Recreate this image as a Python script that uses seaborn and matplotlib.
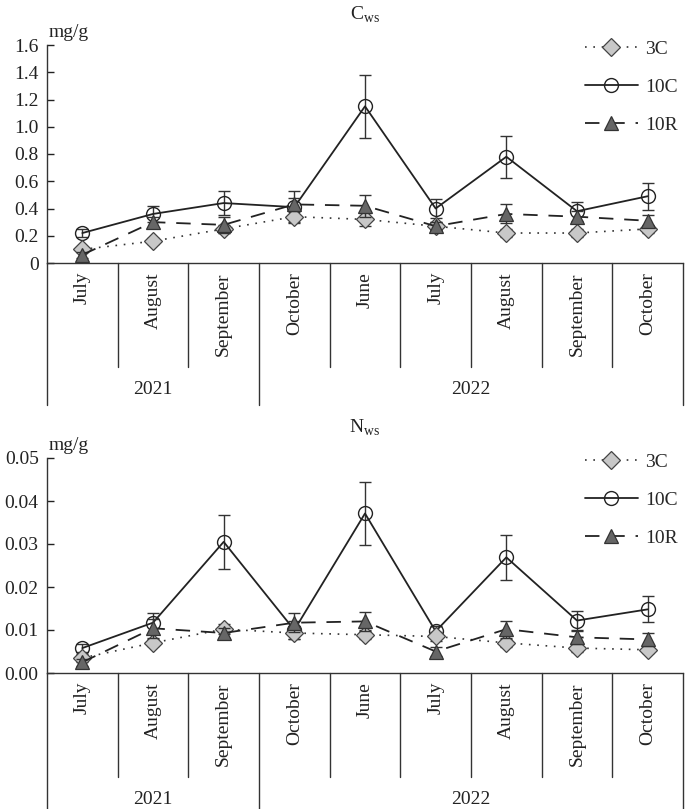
import matplotlib
matplotlib.use("Agg")
import matplotlib.pyplot as plt
from matplotlib.lines import Line2D
import seaborn as sns

# sampling months and years
months = ["July", "August", "September", "October", "June",
          "July", "August", "September", "October"]
years = ["2021", "2022"]
year_spans = [(0, 3), (3, 9)]  # column index ranges for each year
series_names = ["3C", "10C", "10R"]

# C_ws, mg/g
c_3c = [0.10, 0.16, 0.25, 0.34, 0.32, 0.27, 0.22, 0.22, 0.25]
c_3c_err = [0.02, 0.02, 0.03, 0.04, 0.05, 0.03, 0.03, 0.03, 0.03]
c_10c = [0.22, 0.36, 0.44, 0.41, 1.15, 0.40, 0.78, 0.38, 0.49]
c_10c_err = [0.03, 0.06, 0.09, 0.12, 0.23, 0.07, 0.155, 0.07, 0.10]
c_10r = [0.06, 0.30, 0.28, 0.43, 0.42, 0.27, 0.36, 0.34, 0.31]
c_10r_err = [0.02, 0.04, 0.06, 0.05, 0.08, 0.03, 0.07, 0.04, 0.04]

# N_ws, mg/g
n_3c = [0.0035, 0.0070, 0.0102, 0.0093, 0.0089, 0.0085, 0.0070, 0.0058, 0.0054]
n_3c_err = [0.0010, 0.0008, 0.0012, 0.0015, 0.0010, 0.0010, 0.0010, 0.0010, 0.0008]
n_10c = [0.0058, 0.0117, 0.0305, 0.0100, 0.0371, 0.0097, 0.0269, 0.0122, 0.0148]
n_10c_err = [0.0010, 0.0023, 0.0062, 0.0020, 0.0074, 0.0012, 0.0053, 0.0022, 0.0030]
n_10r = [0.0025, 0.0104, 0.0093, 0.0117, 0.0120, 0.0050, 0.0102, 0.0083, 0.0078]
n_10r_err = [0.0008, 0.0022, 0.0012, 0.0022, 0.0023, 0.0010, 0.0020, 0.0015, 0.0016]

c_ticks = [0, 0.2, 0.4, 0.6, 0.8, 1.0, 1.2, 1.4, 1.6]
c_ticklabels = ["0", "0.2", "0.4", "0.6", "0.8", "1.0", "1.2", "1.4", "1.6"]
n_ticks = [0.00, 0.01, 0.02, 0.03, 0.04, 0.05]
n_ticklabels = ["0.00", "0.01", "0.02", "0.03", "0.04", "0.05"]

sns.set_style("ticks")
plt.rcParams["font.family"] = ["Liberation Serif", "DejaVu Serif"]
plt.rcParams["mathtext.fontset"] = "custom"
plt.rcParams["mathtext.rm"] = "Liberation Serif"
plt.rcParams["axes.edgecolor"] = "#333333"

styles = {
    "3C": dict(color="#333333", linestyle=(0, (1, 4)), linewidth=1.2, marker="D",
               markersize=9, markerfacecolor="#c8c8c8", markeredgecolor="#444444",
               markeredgewidth=0.9),
    "10C": dict(color="#222222", linestyle="-", linewidth=1.3, marker="o",
                markersize=10, markerfacecolor="none", markeredgecolor="#222222",
                markeredgewidth=1.0),
    "10R": dict(color="#222222", linestyle=(0, (8, 6)), linewidth=1.3, marker="^",
                markersize=10, markerfacecolor="#666666", markeredgecolor="#333333",
                markeredgewidth=0.9),
}

FS = 14
W, H, DPI = 6.85, 8.09, 100
fig = plt.figure(figsize=(W, H), dpi=DPI)

ax_top = fig.add_axes([47 / 685, 1 - 263 / 809, 636 / 685, 218 / 809])
ax_bot = fig.add_axes([47 / 685, 1 - 673 / 809, 636 / 685, 215 / 809])

panels = [
    (ax_top, {"3C": (c_3c, c_3c_err), "10C": (c_10c, c_10c_err), "10R": (c_10r, c_10r_err)},
     c_ticks, c_ticklabels, r"$\mathrm{C}_{\mathrm{ws}}$", 218),
    (ax_bot, {"3C": (n_3c, n_3c_err), "10C": (n_10c, n_10c_err), "10R": (n_10r, n_10r_err)},
     n_ticks, n_ticklabels, r"$\mathrm{N}_{\mathrm{ws}}$", 215),
]

x = list(range(len(months)))

for ax, data, ticks, ticklabels, title, h_px in panels:
    # draw order: 10C underneath, then 3C, 10R on top
    for z, name in zip([2, 3, 4], ["10C", "3C", "10R"]):
        vals, errs = data[name]
        ax.errorbar(x, vals, yerr=errs, fmt="none", ecolor="#333333",
                    elinewidth=1.0, capsize=4, capthick=1.0, zorder=z)
        sns.lineplot(x=x, y=vals, ax=ax, zorder=z + 0.5, **styles[name])

    ax.set_xlim(-0.5, len(months) - 0.5)
    ax.set_ylim(ticks[0], ticks[-1])
    ax.set_yticks(ticks)
    ax.set_yticklabels(ticklabels)
    ax.set_xticks([])
    ax.tick_params(axis="y", direction="in", length=5, width=1.0, pad=6,
                   labelsize=FS, colors="#222222")
    ax.set_xlabel("")
    ax.set_ylabel("")
    sns.despine(ax=ax)
    ax.spines["left"].set_linewidth(1.0)
    ax.spines["bottom"].set_linewidth(1.0)

    ax.text(0.5, 1 + 30 / h_px, title, transform=ax.transAxes, fontsize=FS,
            ha="center", va="center", color="#222222")
    ax.text(0.002, 1.02, "mg/g", transform=ax.transAxes, fontsize=FS,
            ha="left", va="bottom", color="#222222")

    # category table below the axis
    tr = ax.get_xaxis_transform()
    month_end = -104 / h_px
    outer_end = -142 / h_px
    for b in range(len(months) + 1):
        xb = b - 0.5
        outer = b in (0, year_spans[0][1], len(months))
        ax.plot([xb, xb], [0, outer_end if outer else month_end], transform=tr,
                color="#333333", lw=1.0, clip_on=False)
    for i, m in enumerate(months):
        ax.text(i, -9 / h_px, m, transform=tr, rotation=90, ha="center", va="top",
                fontsize=FS, color="#222222")
    for yr, (a, b) in zip(years, year_spans):
        ax.text((a + b - 1) / 2, -127 / h_px, yr, transform=tr, ha="center",
                va="center", fontsize=FS, color="#222222")

    handles = [Line2D([], [], **styles[n]) for n in series_names]
    ax.legend(handles, series_names, loc="upper left", frameon=False,
              bbox_to_anchor=((585 - 47) / 636, 1 + 5 / h_px),
              fontsize=FS, handlelength=2.7,
              handletextpad=0.4, labelspacing=1.05, borderpad=0, borderaxespad=0)

fig.savefig("out.png", dpi=DPI)
